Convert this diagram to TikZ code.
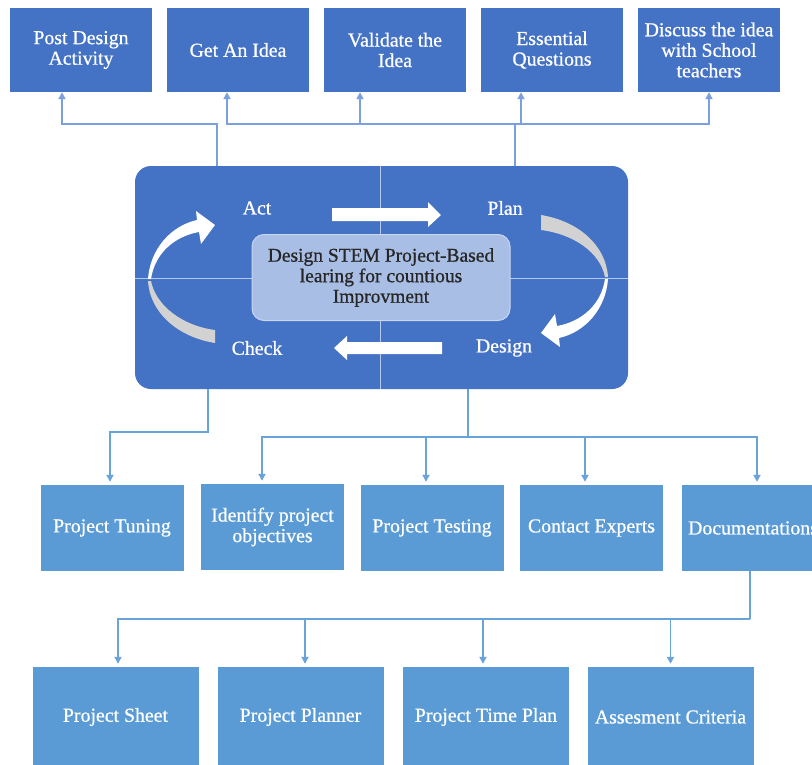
\documentclass[tikz,border=0pt]{standalone}
\usepackage{fontspec}
\setmainfont{Liberation Serif}
\newfontfamily\labelfont[FakeBold=0.7]{Liberation Serif}
\usetikzlibrary{arrows.meta,calc}

\definecolor{darkblue}{HTML}{4472C4}
\definecolor{lightblue}{HTML}{5B9BD5}
\definecolor{linkblue}{HTML}{6AA3DA}
\definecolor{toplink}{HTML}{7AA0DE}
\definecolor{corebox}{HTML}{A9BEE4}
\definecolor{coreedge}{HTML}{C9D6F0}
\definecolor{divider}{HTML}{B3C8EE}
\definecolor{tailgray}{HTML}{D2D2D2}

\begin{document}
\begin{tikzpicture}[x=1pt,y=-1pt,
  box/.style={rectangle, inner sep=0pt, text=white, align=center,
    font=\labelfont\fontsize{19.8}{20.5}\selectfont},
  topbox/.style={box, fill=darkblue, minimum width=142pt, minimum height=84pt},
  midbox/.style={box, fill=lightblue, minimum width=143pt, minimum height=86pt},
  lowbox/.style={box, fill=lightblue, minimum width=166pt, minimum height=100pt},
  phase/.style={text=white, font=\labelfont\fontsize{19.8}{20.5}\selectfont},
  uplink/.style={draw=toplink, line width=1.8pt, -{Triangle[length=7pt,width=7pt]}},
  upline/.style={draw=toplink, line width=1.8pt},
  downlink/.style={draw=linkblue, line width=1.8pt, -{Triangle[length=7pt,width=7pt]}, shorten >=3pt},
  downline/.style={draw=linkblue, line width=1.8pt},
  blockarrow/.style={fill=white},
]
\clip (0,0) rectangle (812,764);
\fill[white] (0,0) rectangle (812,764);

% top row
\node[topbox] (pd) at (81,50)  {Post Design\\Activity};
\node[topbox] (gi) at (238,50) {Get An Idea};
\node[topbox] (vi) at (395,50) {Validate the\\Idea};
\node[topbox] (eq) at (552,50) {Essential\\Questions};
\node[topbox] (dt) at (709,50) {Discuss the idea\\with School\\teachers};

% central cycle panel
\node[rectangle, fill=darkblue, rounded corners=16pt, minimum width=493pt,
      minimum height=223pt, inner sep=0pt] (cyc) at (381.5,277.5) {};
\draw[divider, line width=0.8pt] (cyc.north -| 380,0) -- (cyc.south -| 380,0);
\draw[divider, line width=0.8pt] (cyc.west |- 0,278) -- (cyc.east |- 0,278);

% curved arrows: left one, then the same shape turned half round
\begin{scope}
  \fill[tailgray] (148,281) .. controls (150,313) and (178,337) .. (215,343)
    -- (215,330) .. controls (183,326) and (156,306) .. (151,281) -- cycle;
  \fill[white] (148,279) .. controls (150,250) and (170,226) .. (197,220)
    -- (196,211) -- (215,225) -- (201,244) -- (199,232)
    .. controls (176,236) and (155,252) .. (151,279) -- cycle;
\end{scope}
\begin{scope}[rotate around={180:(378,279)}]
  \fill[tailgray] (148,281) .. controls (150,313) and (178,337) .. (215,343)
    -- (215,328) .. controls (183,324) and (156,306) .. (151,281) -- cycle;
  \fill[white] (148,279) .. controls (150,250) and (170,226) .. (197,220)
    -- (196,211) -- (215,225) -- (201,244) -- (199,232)
    .. controls (176,236) and (155,252) .. (151,279) -- cycle;
\end{scope}

% straight block arrows
\fill[blockarrow] (332,208) -- (428,208) -- (428,202) -- (441,215) -- (428,227)
  -- (428,221) -- (332,221) -- cycle;
\fill[blockarrow] (442,342) -- (347,342) -- (347,336) -- (334,348) -- (347,360)
  -- (347,354) -- (442,354) -- cycle;

\node[phase] (act) at (257,208) {Act};
\node[phase] (plan) at (505,208) {Plan};
\node[phase] (check) at (257,348) {Check};
\node[phase] (design) at (504,348) {Design};

\node[rectangle, rounded corners=12pt, fill=corebox, draw=coreedge, line width=1pt,
      minimum width=258pt, minimum height=86pt, inner sep=0pt, align=center,
      text=black!85, font=\labelfont\fontsize{19.5}{20.5}\selectfont] (core) at (381,277.5)
  {Design STEM Project-Based\\learing for countious\\Improvment};

% second row
\node[midbox] (pt) at (112,528)   {Project Tuning};
\node[midbox] (ip) at (272.5,527) {Identify project\\objectives};
\node[midbox] (tp) at (432,528)   {Project Testing};
\node[midbox] (ce) at (591.5,528) {Contact Experts};
\node[midbox] (dm) at (753,528)   {Documentations};

% third row
\node[lowbox] (ps) at (115.5,717) {Project Sheet};
\node[lowbox] (pp) at (300.5,717) {Project Planner};
\node[lowbox] (tm) at (486,717)   {Project Time Plan};
\node[lowbox] (ac) at (670.5,717) {Assesment Criteria};

% links up to the top row
\coordinate (actout) at (217,166);
\coordinate (planout) at (515,166);
\coordinate (jtop) at (515,124);
\draw[uplink] (actout) -- (217,124) -| ([xshift=-19pt]pd.south);
\draw[upline] (planout) -- (jtop);
\draw[uplink] (jtop) -| ([xshift=-11pt]gi.south);
\draw[uplink] (jtop) -| (dt.south);
\draw[uplink] ([xshift=-35pt]vi.south |- jtop) -- ([xshift=-35pt]vi.south);
\draw[uplink] ([xshift=-31pt]eq.south |- jtop) -- ([xshift=-31pt]eq.south);

% links down to the second row
\coordinate (checkout) at (208,389);
\coordinate (designout) at (468,389);
\coordinate (jmid) at (468,437);
\draw[downlink] (checkout) -- (208,432) -| ([xshift=-2pt]pt.north);
\draw[downline] (designout) -- (jmid);
\draw[downlink] (jmid) -| ([xshift=-10.5pt]ip.north);
\draw[downlink] (jmid) -| ([xshift=4pt]dm.north);
\draw[downlink] ([xshift=-6pt]tp.north |- jmid) -- ([xshift=-6pt]tp.north);
\draw[downlink] ([xshift=-6.5pt]ce.north |- jmid) -- ([xshift=-6.5pt]ce.north);

% links down to the third row
\coordinate (jlow) at (750,619);
\draw[downline] ([xshift=-3pt]dm.south) -- (jlow);
\draw[downlink] (jlow) -| ([xshift=2.5pt]ps.north);
\draw[downlink] ([xshift=4.5pt]pp.north |- jlow) -- ([xshift=4.5pt]pp.north);
\draw[downlink] ([xshift=-3pt]tm.north |- jlow) -- ([xshift=-3pt]tm.north);
\draw[downlink] (ac.north |- jlow) -- (ac.north);
\end{tikzpicture}
\end{document}
